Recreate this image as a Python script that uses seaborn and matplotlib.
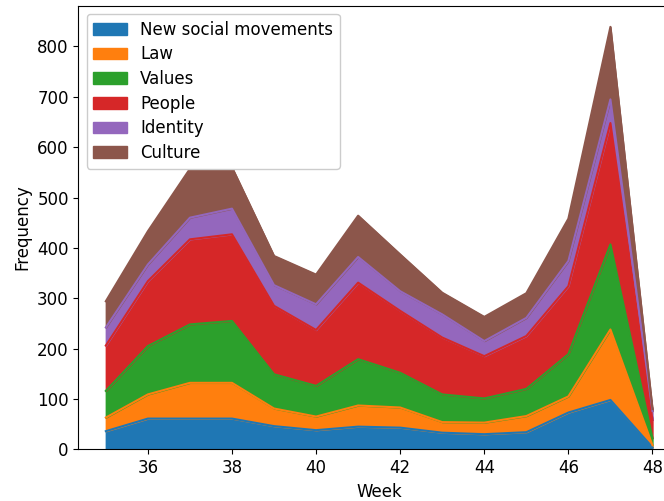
import pandas as pd
import numpy as np
import matplotlib
matplotlib.use("Agg")
import matplotlib.pyplot as plt
import seaborn as sns

# weekly topic counts
weeks = [35, 36, 37, 38, 39, 40, 41, 42, 43, 44, 45, 46, 47, 48]
new_social_movements = [36, 61, 61, 61, 46, 38, 45, 43, 33, 30, 34, 73, 98, 4]
law = [27, 48, 71, 71, 35, 27, 42, 40, 21, 23, 32, 32, 140, 4]
values = [53, 96, 116, 123, 68, 61, 92, 69, 55, 48, 54, 84, 169, 14]
people = [90, 129, 169, 172, 136, 111, 152, 123, 113, 84, 105, 135, 241, 36]
identity = [36, 33, 43, 51, 41, 51, 51, 39, 46, 30, 36, 50, 47, 18]
culture = [52, 66, 97, 82, 58, 59, 82, 73, 43, 48, 49, 84, 144, 4]

df = pd.DataFrame({
    'New social movements': new_social_movements,
    'Law': law,
    'Values': values,
    'People': people,
    'Identity': identity,
    'Culture': culture,
}, index=pd.Index(weeks, name='Week'))

colors = sns.color_palette('tab10', 6)
plt.rcParams['font.size'] = 12

fig = plt.figure(figsize=(6.64, 5.01), dpi=100)
# the original picture is cut off on the right, so the axes run past the edge
ax = fig.add_axes([0.1182, 0.1032, 0.9056, 0.8854])
df.plot.area(ax=ax, color=colors)

ax.set_xlim(34.35, 48.65)
ax.set_ylim(0, 881)
ax.set_xticks(range(36, 49, 2))
ax.set_xlabel('Week')
ax.set_ylabel('Frequency')
ax.legend(loc='upper left', labelspacing=0.4, framealpha=1)

fig.savefig('out.png', dpi=100)
